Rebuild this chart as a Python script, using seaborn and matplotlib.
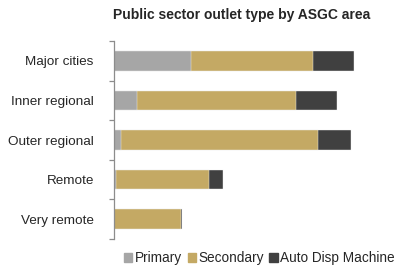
import matplotlib
matplotlib.use("Agg")
import matplotlib.pyplot as plt
import matplotlib.patches as mpatches
import numpy as np
import pandas as pd
import seaborn as sns

# data (relative widths)
areas = ['Major cities', 'Inner regional', 'Outer regional', 'Remote', 'Very remote']
primary = [77, 23, 7, 2, 0]
secondary = [122, 159, 197, 93, 67]
auto_disp = [41, 41, 33, 14, 1]

series = ['Primary', 'Secondary', 'Auto Disp Machine']
colors = ['#a6a6a6', '#c4a964', '#404040']

df = pd.DataFrame({'area': areas, 'Primary': primary,
                   'Secondary': secondary, 'Auto Disp Machine': auto_disp})
# cumulative sums for layered stacking
cum = df[series].cumsum(axis=1)
cum['area'] = df['area']

sns.set_style('white')
plt.rcParams['font.family'] = ['Liberation Sans', 'DejaVu Sans']

fig = plt.figure(figsize=(3.98, 2.66), dpi=100)
ax = fig.add_axes([114 / 398, 1 - 239 / 266, 276 / 398, 198 / 266])

for name, col in reversed(list(zip(series, colors))):
    sns.barplot(data=cum, x=name, y='area', color=col, orient='h', saturation=1,
                width=0.49, edgecolor='#f2f2f2', linewidth=0.3, ax=ax)

ax.set_xlim(0, 276)
ax.set_ylim(4.5, -0.5)
ax.set_xlabel('')
ax.set_ylabel('')
ax.set_xticks([])
for s in ['top', 'right', 'bottom']:
    ax.spines[s].set_visible(False)
ax.spines['left'].set_color('#8c8c8c')
ax.spines['left'].set_linewidth(0.9)
ax.tick_params(axis='y', which='major', left=False, pad=11, labelsize=9.7)
ax.set_yticks(np.arange(-0.5, 5, 1), minor=True)
ax.tick_params(axis='y', which='minor', left=True, length=3.5, color='#8c8c8c', width=0.9)

fig.text(242 / 398, 1 - 15 / 266, 'Public sector outlet type by ASGC area',
         ha='center', va='center', fontsize=10, fontweight='bold')

handles = [mpatches.Patch(color=c, label=n) for n, c in zip(series, colors)]
fig.legend(handles=handles, loc='center', bbox_to_anchor=(259.5 / 398, 1 - 258 / 266),
           ncol=3, frameon=False, fontsize=9.8, handlelength=0.6, handleheight=0.6,
           handletextpad=0.2, columnspacing=0.4, borderaxespad=0, borderpad=0)

fig.savefig('out.png', dpi=100)
